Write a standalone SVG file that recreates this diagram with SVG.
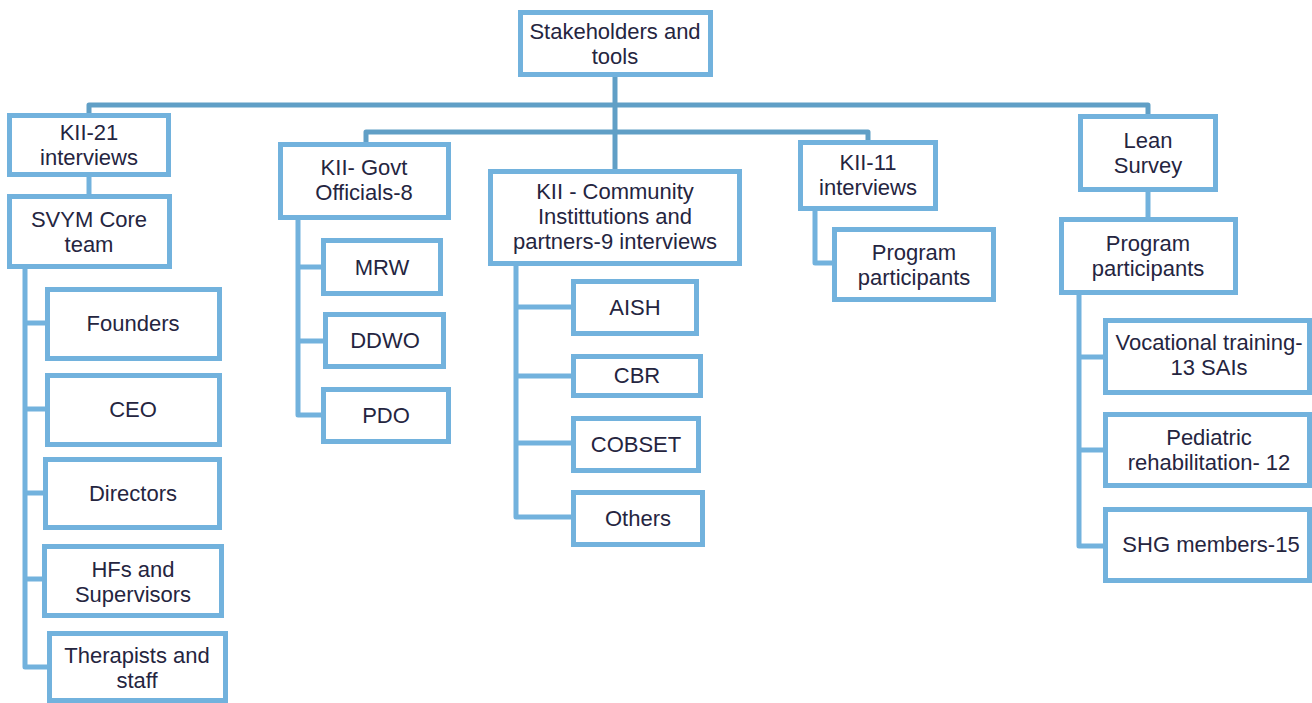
<svg xmlns="http://www.w3.org/2000/svg" width="1312" height="703" viewBox="0 0 1312 703">
<style>
.box{fill:#ffffff;stroke:#72b2dd;stroke-width:5}
.t{font-family:"Liberation Sans",Arial,sans-serif;font-size:22px;fill:#25253f;text-anchor:middle}
.c1{fill:none;stroke:#609fc6;stroke-width:5;stroke-linejoin:round}
.c2{fill:none;stroke:#72b2dd;stroke-width:5;stroke-linejoin:round}
</style>
<rect width="1312" height="703" fill="#ffffff"/>
<g id="connectors">
<path class="c1" d="M615,76 V170"/>
<path class="c1" d="M89,114 V105 H1148 V114"/>
<path class="c1" d="M366,142 V132 H868 V140"/>
<path class="c2" d="M89,177 V195"/>
<path class="c2" d="M1148,192 V218"/>
<path class="c2" d="M25,269 V667 H49 M25,323 H47 M25,409 H47 M25,493 H45 M25,579 H44"/>
<path class="c2" d="M298,220 V415 H323 M298,267 H323 M298,341 H325"/>
<path class="c2" d="M516,266 V517 H573 M516,307 H573 M516,376 H573 M516,443 H573"/>
<path class="c2" d="M815,211 V263 H834"/>
<path class="c2" d="M1079,295 V546 H1105 M1079,357 H1105 M1079,450 H1105"/>
</g>
<g id="root"><rect class="box" x="520.5" y="12.5" width="190" height="62"/><text class="t" x="615" y="38.5">Stakeholders and</text><text class="t" x="615" y="63.5">tools</text></g>
<g id="kii21"><rect class="box" x="9.5" y="115.5" width="159" height="59"/><text class="t" x="89" y="139.5">KII-21</text><text class="t" x="89" y="164.5">interviews</text></g>
<g id="svym"><rect class="box" x="9.5" y="196.5" width="160" height="70"/><text class="t" x="89" y="226.5">SVYM Core</text><text class="t" x="89" y="251.5">team</text></g>
<g id="founders"><rect class="box" x="47.5" y="289.5" width="172" height="69"/><text class="t" x="133" y="331">Founders</text></g>
<g id="ceo"><rect class="box" x="47.5" y="375.5" width="172" height="69"/><text class="t" x="133" y="417">CEO</text></g>
<g id="directors"><rect class="box" x="45.5" y="459.5" width="174" height="68"/><text class="t" x="133" y="501">Directors</text></g>
<g id="hfs"><rect class="box" x="44.5" y="546.5" width="177" height="69"/><text class="t" x="133" y="576.5">HFs and</text><text class="t" x="133" y="601.5">Supervisors</text></g>
<g id="therapists"><rect class="box" x="49.5" y="633.5" width="176" height="67"/><text class="t" x="137" y="662.5">Therapists and</text><text class="t" x="137" y="687.5">staff</text></g>
<g id="govt"><rect class="box" x="280.5" y="144.5" width="168" height="73"/><text class="t" x="364" y="174.5">KII- Govt</text><text class="t" x="364" y="199.5">Officials-8</text></g>
<g id="mrw"><rect class="box" x="323.5" y="240.5" width="117" height="53"/><text class="t" x="382" y="275">MRW</text></g>
<g id="ddwo"><rect class="box" x="325.5" y="314.5" width="118" height="52"/><text class="t" x="385" y="348">DDWO</text></g>
<g id="pdo"><rect class="box" x="323.5" y="389.5" width="125" height="52"/><text class="t" x="386" y="423">PDO</text></g>
<g id="community"><rect class="box" x="490.5" y="171.5" width="249" height="92"/><text class="t" x="615" y="199">KII - Community</text><text class="t" x="615" y="224">Instittutions and</text><text class="t" x="615" y="249">partners-9 interviews</text></g>
<g id="aish"><rect class="box" x="573.5" y="281.5" width="123" height="52"/><text class="t" x="635" y="315">AISH</text></g>
<g id="cbr"><rect class="box" x="573.5" y="356.5" width="127" height="39"/><text class="t" x="637" y="383">CBR</text></g>
<g id="cobset"><rect class="box" x="573.5" y="418.5" width="125" height="52"/><text class="t" x="636" y="452">COBSET</text></g>
<g id="others"><rect class="box" x="573.5" y="492.5" width="129" height="52"/><text class="t" x="638" y="526">Others</text></g>
<g id="kii11"><rect class="box" x="800.5" y="142.5" width="135" height="66"/><text class="t" x="868" y="169.5">KII-11</text><text class="t" x="868" y="194.5">interviews</text></g>
<g id="prog1"><rect class="box" x="834.5" y="229.5" width="159" height="70"/><text class="t" x="914" y="260">Program</text><text class="t" x="914" y="285">participants</text></g>
<g id="lean"><rect class="box" x="1080.5" y="116.5" width="135" height="73"/><text class="t" x="1148" y="147.5">Lean</text><text class="t" x="1148" y="172.5">Survey</text></g>
<g id="prog2"><rect class="box" x="1061.5" y="219.5" width="174" height="73"/><text class="t" x="1148" y="251">Program</text><text class="t" x="1148" y="276">participants</text></g>
<g id="vocational"><rect class="box" x="1105.5" y="320.5" width="204" height="72"/><text class="t" x="1209" y="349.5">Vocational training-</text><text class="t" x="1209" y="374.5">13 SAIs</text></g>
<g id="pediatric"><rect class="box" x="1105.5" y="414.5" width="204" height="71"/><text class="t" x="1209" y="445">Pediatric</text><text class="t" x="1209" y="470">rehabilitation- 12</text></g>
<g id="shg"><rect class="box" x="1105.5" y="509.5" width="204" height="71"/><text class="t" x="1211" y="552">SHG members-15</text></g>
</svg>
